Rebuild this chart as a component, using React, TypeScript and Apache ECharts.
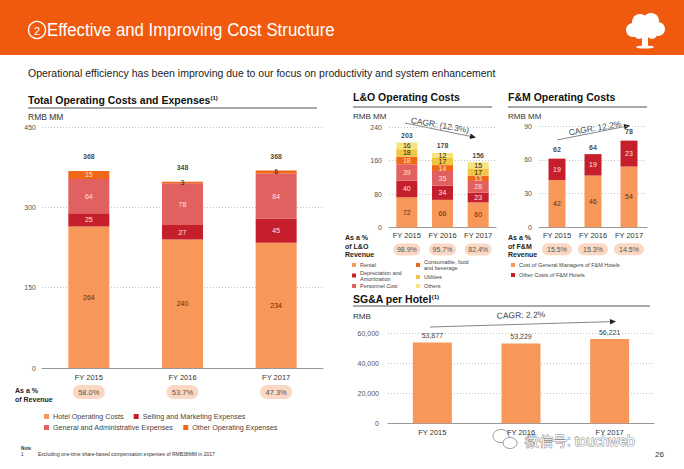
import React, { useEffect, useRef } from "react";
import * as echarts from "echarts";

// ---------- Data ----------
const years = ["FY 2015", "FY 2016", "FY 2017"];

// Total Operating Costs and Expenses (RMB MM)
const hotelOpCosts = [264, 240, 234];
const sellingMkt = [25, 27, 45];
const genAdmin = [64, 78, 84];
const otherOp = [15, 3, 6];
const totalOpLabels = [368, 348, 368];
const totalPctRevenue = ["58.0%", "53.7%", "47.3%"];
const totalTicks = { max: 450, interval: 150 };

// L&O Operating Costs (RMB MM)
const loRental = [72, 66, 60];
const loDepAmort = [40, 34, 23];
const loPersonnel = [39, 35, 28];
const loConsumable = [18, 14, 13];
const loUtilities = [18, 17, 17];
const loOthers = [16, 12, 15];
const loTotals = [203, 178, 156];
const loPct = ["98.9%", "95.7%", "82.4%"];
const loTicks = { max: 240, interval: 80 };

// F&M Operating Costs (RMB MM)
const fmGM = [42, 46, 54];
const fmOther = [19, 19, 23];
const fmTotals = [62, 64, 78];
const fmPct = ["15.5%", "15.3%", "14.5%"];
const fmTicks = { max: 90, interval: 30 };

// SG&A per Hotel (RMB)
const sgaPerHotel = [53877, 53229, 56221];
const sgaTicks = { max: 60000, interval: 20000 };

// ---------- Styles ----------
const FONT = "Liberation Sans, Arial, sans-serif";
const C = {
  header: "#EF5A0E",
  hotel: "#F7975A",
  sell: "#C41F2A",
  ga: "#E0615F",
  other: "#EF6719",
  util: "#F3C544",
  oth: "#F5E37F",
  pill: "#FAD8C4",
};

function arrow(x1: number, y1: number, x2: number, y2: number) {
  const ang = Math.atan2(y2 - y1, x2 - x1);
  const L = 6, W = 2.8;
  const bx = x2 - L * Math.cos(ang), by = y2 - L * Math.sin(ang);
  const px = -Math.sin(ang) * W, py = Math.cos(ang) * W;
  return [
    { type: "line", shape: { x1, y1, x2: bx, y2: by }, style: { stroke: "#666", lineWidth: 0.8 } },
    { type: "polygon", shape: { points: [[x2, y2], [bx + px, by + py], [bx - px, by - py]] }, style: { fill: "#222" } },
  ];
}

function txt(x: number, y: number, text: string, o: any = {}) {
  return {
    type: "text",
    x,
    y,
    rotation: o.rotation || 0,
    scaleX: o.scaleX || 1,
    style: {
      text,
      fontFamily: FONT,
      fontSize: o.fontSize || 8,
      fontWeight: o.fontWeight || "normal",
      fill: o.fill || "#222",
      align: o.align || "left",
      verticalAlign: o.verticalAlign || "middle",
      lineHeight: o.lineHeight,
      rich: o.rich,
      stroke: o.stroke,
      lineWidth: o.lineWidth,
    },
  };
}

function titleText(x: number, y: number, t: string, sup: string) {
  return txt(x, y, `{t|${t}}` + (sup ? `{s|${sup}}` : ""), {
    rich: {
      t: { fontSize: 10.5, fontWeight: "bold", fill: "#111", fontFamily: FONT },
      s: { fontSize: 6, fontWeight: "bold", fill: "#111", fontFamily: FONT, verticalAlign: "top" },
    },
  });
}

function xAxisCfg(gridIndex: number, pct: string[] | null, o: any) {
  return {
    type: "category",
    gridIndex,
    data: years,
    axisTick: { show: false },
    axisLine: { lineStyle: { color: "#999", width: 1 } },
    axisLabel: {
      margin: o.margin,
      interval: 0,
      fontFamily: FONT,
      formatter: (v: string, i: number) => (pct ? `{fy|${v}}\n{pct|${pct[i]}}` : `{fy|${v}}`),
      rich: {
        fy: { fontSize: o.fy, color: "#333", lineHeight: o.fyLH, fontFamily: FONT },
        pct: {
          fontSize: o.pfs,
          color: "#555",
          backgroundColor: C.pill,
          borderRadius: o.ph / 2,
          width: o.pw,
          height: o.ph,
          lineHeight: o.ph,
          align: "center",
          fontFamily: FONT,
        },
      },
    },
  };
}

function yAxisCfg(gridIndex: number, t: { max: number; interval: number }, margin: number, fmt?: (v: number) => string) {
  return {
    type: "value",
    gridIndex,
    min: 0,
    max: t.max,
    interval: t.interval,
    axisLine: { show: false },
    axisTick: { show: false },
    axisLabel: { fontSize: 7, color: "#555", margin, fontFamily: FONT, formatter: fmt },
    splitLine: { lineStyle: { color: "#c4c4c4", type: [1, 2], width: 1 } },
  };
}

function stackBar(name: string, data: number[], color: string, stack: string, axis: number, barWidth: number, labelColor: any, fs = 7) {
  return {
    name,
    type: "bar",
    stack,
    xAxisIndex: axis,
    yAxisIndex: axis,
    barWidth,
    itemStyle: { color },
    data: data.map((v) => ({
      value: v,
      label: { color: typeof labelColor === "function" ? labelColor(v) : labelColor },
    })),
    label: { show: true, position: "inside", fontSize: fs, fontFamily: FONT },
  };
}

function totalsSeries(data: number[], axis: number, distance: number, fs = 7) {
  return {
    type: "scatter",
    xAxisIndex: axis,
    yAxisIndex: axis,
    symbolSize: 1,
    itemStyle: { color: "rgba(0,0,0,0)" },
    data,
    label: { show: true, position: "top", distance, fontSize: fs, fontWeight: "bold", color: "#111", fontFamily: FONT },
    z: 5,
  };
}

const loNames: Record<string, string> = {
  Rental: "Rental",
  "Depreciation and Amortization": "Depreciation and\nAmortization",
  "Personnel Cost": "Personnel Cost",
  "Consumable, food and beverage": "Consumable, food\nand beverage",
  Utilities: "Utilities",
  Others: "Others",
};

function legendCfg(data: string[], o: any) {
  return {
    data,
    orient: o.orient || "vertical",
    left: o.left,
    top: o.top,
    padding: 0,
    itemGap: o.itemGap,
    itemWidth: o.icon,
    itemHeight: o.icon,
    icon: "rect",
    formatter: o.formatter,
    textStyle: { fontSize: o.fontSize, color: "#444", lineHeight: o.lineHeight, fontFamily: FONT, padding: [0, 0, 0, -1] },
  };
}

export default function App() {
  const ref = useRef<HTMLDivElement>(null);
  useEffect(() => {
    if (!ref.current) return;
    const chart = echarts.init(ref.current, null, { renderer: "svg" });

    const graphics: any[] = [
      // header
      { type: "rect", shape: { x: 0, y: 0, width: 684, height: 55 }, style: { fill: C.header } },
      { type: "circle", shape: { cx: 37, cy: 30, r: 8.5 }, style: { fill: "none", stroke: "#fff", lineWidth: 1.4 } },
      txt(37, 30.5, "2", { fontSize: 11, fill: "#fff", align: "center" }),
      txt(47, 30, "Effective and Improving Cost Structure", { fontSize: 18.5, fill: "#fff", scaleX: 0.91 }),
      // tree logo
      { type: "circle", shape: { cx: 633, cy: 30, r: 7 }, style: { fill: "#fff" } },
      { type: "circle", shape: { cx: 640, cy: 22, r: 8 }, style: { fill: "#fff" } },
      { type: "circle", shape: { cx: 651, cy: 21, r: 8 }, style: { fill: "#fff" } },
      { type: "circle", shape: { cx: 658, cy: 29, r: 7 }, style: { fill: "#fff" } },
      { type: "circle", shape: { cx: 645, cy: 29, r: 9 }, style: { fill: "#fff" } },
      { type: "circle", shape: { cx: 639, cy: 34, r: 5 }, style: { fill: "#fff" } },
      { type: "circle", shape: { cx: 652, cy: 34, r: 5 }, style: { fill: "#fff" } },
      { type: "rect", shape: { x: 642, y: 34, width: 6, height: 13 }, style: { fill: "#fff" } },
      { type: "ellipse", shape: { cx: 645, cy: 47, rx: 9, ry: 1.6 }, style: { fill: "#fff" } },
      // subtitle
      txt(28, 73, "Operational efficiency has been improving due to our focus on productivity and system enhancement", { fontSize: 10.5, fill: "#222" }),

      // Left panel
      titleText(28, 100, "Total Operating Costs and Expenses", "(1)"),
      { type: "line", shape: { x1: 28, y1: 108, x2: 317, y2: 108 }, style: { stroke: "#555", lineWidth: 1 } },
      txt(28, 117, "RMB MM", { fontSize: 8.5, fill: "#333" }),
      txt(15, 395, "As a %\nof Revenue", { fontSize: 7, fontWeight: "bold", fill: "#222", lineHeight: 8.5 }),
      txt(21, 448, "Note", { fontSize: 4.5, fontWeight: "bold", fill: "#333" }),
      txt(21, 454, "1", { fontSize: 4.5, fill: "#333" }),
      txt(38, 454, "Excluding one-time share-based compensation expenses of RMB38MM in 2017", { fontSize: 5, fill: "#333" }),

      // L&O panel
      titleText(353, 97, "L&O Operating Costs", ""),
      { type: "line", shape: { x1: 353, y1: 107, x2: 492, y2: 107 }, style: { stroke: "#555", lineWidth: 1 } },
      txt(353, 116, "RMB MM", { fontSize: 8, fill: "#333" }),
      txt(440, 125, "CAGR: (12.3%)", { fontSize: 8.5, fill: "#444", align: "center", rotation: -0.17 }),
      ...arrow(405, 123, 476, 137.5),
      txt(345, 246, "As a %\nof L&O\nRevenue", { fontSize: 7, fontWeight: "bold", fill: "#222", lineHeight: 8.5 }),

      // F&M panel
      titleText(508, 97, "F&M Operating Costs", ""),
      { type: "line", shape: { x1: 508, y1: 107, x2: 647, y2: 107 }, style: { stroke: "#555", lineWidth: 1 } },
      txt(508, 116, "RMB MM", { fontSize: 8, fill: "#333" }),
      txt(595, 128, "CAGR: 12.2%", { fontSize: 8.5, fill: "#444", align: "center", rotation: 0.17 }),
      ...arrow(557, 140, 630, 125.5),
      txt(508, 246, "As a %\nof F&M\nRevenue", { fontSize: 7, fontWeight: "bold", fill: "#222", lineHeight: 8.5 }),

      // SG&A panel
      titleText(353, 299, "SG&A per Hotel", "(1)"),
      { type: "line", shape: { x1: 353, y1: 306, x2: 650, y2: 306 }, style: { stroke: "#555", lineWidth: 1 } },
      txt(353, 316, "RMB", { fontSize: 8, fill: "#333" }),
      txt(521, 315, "CAGR: 2.2%", { fontSize: 8.5, fill: "#444", align: "center", rotation: 0.03 }),
      ...arrow(430, 327, 616, 321.5),

      // watermark
      { type: "ellipse", shape: { cx: 501, cy: 436, rx: 8, ry: 6.5 }, style: { fill: "#fff", stroke: "#999", lineWidth: 1 } },
      { type: "ellipse", shape: { cx: 510, cy: 443, rx: 7, ry: 5.5 }, style: { fill: "#fff", stroke: "#999", lineWidth: 1 } },
      txt(525, 441, "微信号: touchweb", { fontSize: 14, fill: "#fff", stroke: "#8a8a8a", lineWidth: 1 }),
      txt(664, 454, "26", { fontSize: 8, fill: "#333", align: "right" }),
    ];

    const option: any = {
      animation: false,
      backgroundColor: "#fff",
      textStyle: { fontFamily: FONT },
      grid: [
        { left: 42, top: 127, width: 281, height: 241 },
        { left: 389, top: 127, width: 107, height: 100.5 },
        { left: 539, top: 126, width: 108, height: 101.3 },
        { left: 388, top: 333.3, width: 266, height: 90 },
      ],
      xAxis: [
        xAxisCfg(0, totalPctRevenue, { margin: 1, fy: 7.5, fyLH: 16, pfs: 7.5, pw: 32, ph: 14 }),
        xAxisCfg(1, loPct, { margin: 0, fy: 7.5, fyLH: 16, pfs: 7, pw: 27, ph: 12 }),
        xAxisCfg(2, fmPct, { margin: 0, fy: 7.5, fyLH: 16, pfs: 7, pw: 30, ph: 12 }),
        xAxisCfg(3, null, { margin: 5, fy: 7.5, fyLH: 9 }),
      ],
      yAxis: [
        yAxisCfg(0, totalTicks, 6),
        yAxisCfg(1, loTicks, 7),
        yAxisCfg(2, fmTicks, 7),
        yAxisCfg(3, sgaTicks, 9, (v: number) => v.toLocaleString("en-US")),
      ],
      legend: [
        legendCfg(["Hotel Operating Costs", "Selling and Marketing Expenses"], {
          orient: "horizontal", left: 44, top: 412, itemGap: 10, icon: 5, fontSize: 7.2, lineHeight: 9,
        }),
        legendCfg(["General and Administrative Expenses", "Other Operating Expenses"], {
          orient: "horizontal", left: 44, top: 423, itemGap: 10, icon: 5, fontSize: 7.2, lineHeight: 9,
        }),
        legendCfg(["Rental", "Depreciation and Amortization", "Personnel Cost"], {
          left: 352, top: 262, itemGap: 1.5, icon: 4, fontSize: 5.5, lineHeight: 6, formatter: (n: string) => loNames[n] || n,
        }),
        legendCfg(["Consumable, food and beverage", "Utilities", "Others"], {
          left: 416, top: 259, itemGap: 3, icon: 4, fontSize: 5.5, lineHeight: 6, formatter: (n: string) => loNames[n] || n,
        }),
        legendCfg(["Cost of General Managers of F&M Hotels", "Other Costs of F&M Hotels"], {
          left: 511, top: 262, itemGap: 4, icon: 4, fontSize: 5.5, lineHeight: 6,
        }),
      ],
      series: [
        // Left
        stackBar("Hotel Operating Costs", hotelOpCosts, C.hotel, "t0", 0, 41, "#6b2a08"),
        stackBar("Selling and Marketing Expenses", sellingMkt, C.sell, "t0", 0, 41, "#fde6e0"),
        stackBar("General and Administrative Expenses", genAdmin, C.ga, "t0", 0, 41, "#fde2dc"),
        stackBar("Other Operating Expenses", otherOp, C.other, "t0", 0, 41, (v: number) => (v < 10 ? "#222" : "#fde3cf")),
        totalsSeries(totalOpLabels, 0, 10),
        // L&O
        stackBar("Rental", loRental, C.hotel, "t1", 1, 21, "#6b2a08"),
        stackBar("Depreciation and Amortization", loDepAmort, C.sell, "t1", 1, 21, "#fde6e0"),
        stackBar("Personnel Cost", loPersonnel, C.ga, "t1", 1, 21, "#fde2dc"),
        stackBar("Consumable, food and beverage", loConsumable, C.other, "t1", 1, 21, "#fde3cf"),
        stackBar("Utilities", loUtilities, C.util, "t1", 1, 21, "#222"),
        stackBar("Others", loOthers, C.oth, "t1", 1, 21, "#222"),
        totalsSeries(loTotals, 1, 3),
        // F&M
        stackBar("Cost of General Managers of F&M Hotels", fmGM, C.hotel, "t2", 2, 17, "#6b2a08"),
        stackBar("Other Costs of F&M Hotels", fmOther, C.sell, "t2", 2, 17, "#fde6e0"),
        totalsSeries(fmTotals, 2, 4),
        // SG&A
        {
          name: "SG&A per Hotel",
          type: "bar",
          xAxisIndex: 3,
          yAxisIndex: 3,
          barWidth: 39,
          itemStyle: { color: C.hotel },
          data: sgaPerHotel,
          label: {
            show: true, position: "top", distance: 3, fontSize: 7, color: "#444", fontFamily: FONT,
            formatter: (p: any) => Number(p.value).toLocaleString("en-US"),
          },
        },
      ],
      graphic: graphics,
    };

    chart.setOption(option);
    return () => chart.dispose();
  }, []);

  return (
    <div
      ref={ref}
      style={{ position: "absolute", left: 0, top: 0, width: 684, height: 469, background: "#fff" }}
    />
  );
}
